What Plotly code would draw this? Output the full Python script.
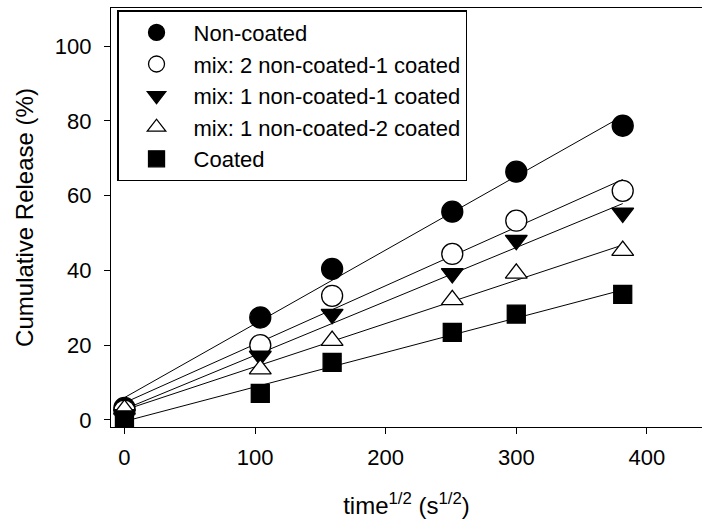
import numpy as np
import plotly.graph_objects as go

# time^1/2 (s^1/2)
x_vals = [0, 104, 159, 251, 300, 381.5]

series_names = [
    "Non-coated",
    "mix: 2 non-coated-1 coated",
    "mix: 1 non-coated-1 coated",
    "mix: 1 non-coated-2 coated",
    "Coated",
]
non_coated = [3.2, 27.4, 40.4, 55.7, 66.4, 78.7]
mix_2nc_1c = [2.5, 20.0, 33.2, 44.4, 53.3, 61.3]
mix_1nc_1c = [1.5, 17.1, 28.3, 39.2, 48.1, 55.4]
mix_1nc_2c = [2.8, 13.6, 21.2, 32.1, 39.2, 45.3]
coated = [0.0, 7.1, 15.4, 23.4, 28.3, 33.6]

series_values = [non_coated, mix_2nc_1c, mix_1nc_1c, mix_1nc_2c, coated]
symbols = ["circle", "circle-open", "triangle-down", "triangle-up-open", "square"]
sizes = [21, 21, 19, 19, 18]

x_ticks = [0, 100, 200, 300, 400]
y_ticks = [0, 20, 40, 60, 80, 100]

fig = go.Figure()

xa = np.array(x_vals, dtype=float)
for name, vals in zip(series_names, series_values):
    slope, icpt = np.polyfit(xa, np.array(vals, dtype=float), 1)
    xl = np.array([xa.min(), xa.max()])
    fig.add_trace(go.Scatter(
        x=xl, y=slope * xl + icpt, mode="lines",
        line=dict(color="black", width=1), showlegend=False, hoverinfo="skip",
    ))

for name, vals, sym, sz in zip(series_names, series_values, symbols, sizes):
    is_open = sym.endswith("-open")
    fig.add_trace(go.Scatter(
        x=x_vals, y=vals, mode="markers", name=name,
        marker=dict(
            symbol=sym.replace("-open", "") if is_open else sym,
            size=sz,
            color="white" if is_open else "black",
            line=dict(color="black", width=1.3),
        ),
    ))

font_family = "Arial, Liberation Sans, sans-serif"

fig.update_layout(
    width=702, height=521,
    margin=dict(l=111, r=0, t=8, b=94),
    paper_bgcolor="white", plot_bgcolor="white",
    font=dict(family=font_family, size=22, color="black"),
    showlegend=True,
    legend=dict(
        x=0.0102, y=0.995, xanchor="left", yanchor="top",
        bgcolor="white", bordercolor="black", borderwidth=1.5,
        font=dict(size=22, color="black"),
        indentation=1,
        itemwidth=64,
        itemsizing="trace",
    ),
    xaxis=dict(
        range=[-10.3, 442.2], tickvals=x_ticks, ticks="outside", ticklen=6,
        tickcolor="black", showline=True, linecolor="black", linewidth=1.2,
        mirror=True, showgrid=False, zeroline=False,
        tickfont=dict(size=22), ticklabelstandoff=4,
        title=dict(text="time<sup>1/2</sup> (s<sup>1/2</sup>)", font=dict(size=24), standoff=28),
    ),
    yaxis=dict(
        range=[-1.9, 110.2], tickvals=y_ticks, ticks="outside", ticklen=6,
        tickcolor="black", showline=True, linecolor="black", linewidth=1.2,
        showgrid=False, zeroline=False,
        tickfont=dict(size=22), ticklabelstandoff=8,
        title=dict(text="Cumulative Release (%)", font=dict(size=24), standoff=14),
    ),
)

fig.write_html("out.html")
